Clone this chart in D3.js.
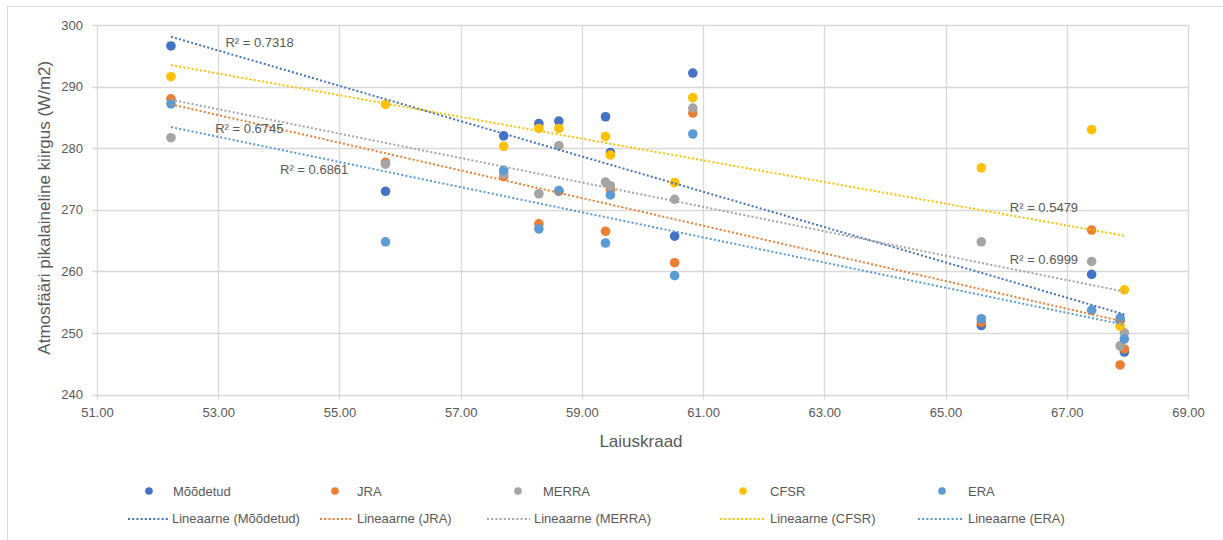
<!DOCTYPE html>
<html>
<head>
<meta charset="utf-8">
<script src="https://cdn.jsdelivr.net/npm/d3@7/dist/d3.min.js"></script>
<style>
  html, body { margin: 0; padding: 0; background: #fff; }
  svg { display: block; font-family: "Liberation Sans", Arial, sans-serif; }
</style>
</head>
<body>
<svg id="chart" width="1223" height="540"></svg>
<script>
// ---- DATA ----
const latitudes = [52.22, 55.76, 57.71, 58.29, 58.62, 59.39, 59.47, 60.53, 60.83, 65.59, 67.41, 67.88, 67.95];
const seriesNames = ["Mõõdetud", "JRA", "MERRA", "CFSR", "ERA"];
const moodetud = [296.6, 273.0, 282.0, 284.0, 284.4, 285.1, 279.3, 265.7, 292.2, 251.2, 259.5, 252.0, 246.9];
const jra      = [288.0, 277.7, 275.4, 267.7, 273.0, 266.5, 273.3, 261.4, 285.7, 251.7, 266.7, 244.8, 247.4];
const merra    = [281.7, 277.4, 275.8, 272.6, 280.4, 274.5, 273.9, 271.7, 286.5, 264.8, 261.6, 247.9, 250.0];
const cfsr     = [291.6, 287.1, 280.3, 283.2, 283.2, 281.9, 278.9, 274.4, 288.2, 276.8, 283.0, 251.1, 257.0];
const era      = [287.2, 264.8, 276.4, 266.9, 273.1, 264.6, 272.4, 259.3, 282.3, 252.3, 253.7, 252.4, 249.0];
const seriesValues = [moodetud, jra, merra, cfsr, era];
const xTicks = [51, 53, 55, 57, 59, 61, 63, 65, 67, 69];
const yTicks = [240, 250, 260, 270, 280, 290, 300];
const r2Labels = ["R² = 0.7318", "R² = 0.6745", "R² = 0.6861", "R² = 0.5479", "R² = 0.6999"];
const r2LabelAt = [[53.12, 297.2], [52.95, 283.3], [54.02, 276.6], [66.06, 270.4], [66.06, 262.0]];
const xTitle = "Laiuskraad";
const yTitle = "Atmosfääri pikalaineline kiirgus (W/m2)";

// ---- STYLE ----
const colors = ["#4472C4", "#ED7D31", "#A5A5A5", "#FFC000", "#5B9BD5"];
const textColor = "#595959";
const gridColor = "#d9d9d9";

const svg = d3.select("#chart");
const W = 1223, H = 540;
const plot = { left: 97, right: 1188, top: 25, bottom: 394.5 };

// chart border
svg.append("rect").attr("x", 7.5).attr("y", 6.5).attr("width", W + 10).attr("height", H + 10)
  .attr("fill", "#fff").attr("stroke", "#d9d9d9").attr("stroke-width", 1);

const x = d3.scaleLinear().domain([51, 69]).range([plot.left, plot.right]);
const y = d3.scaleLinear().domain([240, 300]).range([plot.bottom, plot.top]);

// grid
const g = svg.append("g");
g.selectAll(".hg").data(yTicks).join("line")
  .attr("x1", plot.left - 5).attr("x2", plot.right)
  .attr("y1", d => Math.round(y(d)) + 0.5).attr("y2", d => Math.round(y(d)) + 0.5)
  .attr("stroke", gridColor).attr("stroke-width", 1.3);
g.selectAll(".vg").data(xTicks).join("line")
  .attr("y1", plot.top).attr("y2", plot.bottom + 5)
  .attr("x1", d => Math.round(x(d)) + 0.5).attr("x2", d => Math.round(x(d)) + 0.5)
  .attr("stroke", gridColor).attr("stroke-width", 1.3);

// axes labels via d3 axes (no domain / lines, just text)
const xAxis = d3.axisBottom(x).tickValues(xTicks).tickFormat(d3.format(".2f")).tickSize(0).tickPadding(13);
const xa = svg.append("g").attr("transform", `translate(0,${plot.bottom})`).call(xAxis);
const yAxis = d3.axisLeft(y).tickValues(yTicks).tickFormat(d3.format("d")).tickSize(0).tickPadding(14);
const ya = svg.append("g").attr("transform", `translate(${plot.left},0)`).call(yAxis);
[xa, ya].forEach(a => {
  a.select(".domain").remove();
  a.selectAll("text").attr("fill", textColor).style("font-size", "13px").style("font-family", "Liberation Sans, Arial, sans-serif");
});

// titles
svg.append("text").attr("x", 641).attr("y", 447).attr("text-anchor", "middle")
  .attr("fill", textColor).style("font-size", "17px").text(xTitle);
svg.append("text").attr("transform", `translate(50,${(plot.top + plot.bottom) / 2 - 2}) rotate(-90)`)
  .attr("text-anchor", "middle").attr("fill", textColor).style("font-size", "17px").text(yTitle);

// regression
function linreg(xs, ys) {
  const n = xs.length;
  const mx = d3.mean(xs), my = d3.mean(ys);
  let sxy = 0, sxx = 0;
  for (let i = 0; i < n; i++) { sxy += (xs[i] - mx) * (ys[i] - my); sxx += (xs[i] - mx) ** 2; }
  const b = sxy / sxx;
  return { a: my - b * mx, b };
}
const xMin = d3.min(latitudes), xMax = d3.max(latitudes);

// points (draw series in order)
seriesValues.forEach((vals, si) => {
  svg.append("g").selectAll("circle").data(vals).join("circle")
    .attr("cx", (d, i) => x(latitudes[i])).attr("cy", d => y(d)).attr("r", 4.8)
    .attr("fill", colors[si]);
});

// trendlines on top
seriesValues.forEach((vals, si) => {
  const { a, b } = linreg(latitudes, vals);
  svg.append("line")
    .attr("x1", x(xMin)).attr("y1", y(a + b * xMin))
    .attr("x2", x(xMax)).attr("y2", y(a + b * xMax))
    .attr("stroke", colors[si]).attr("stroke-width", 2)
    .attr("stroke-dasharray", "2 2.2");
});

// R² labels
r2Labels.forEach((t, i) => {
  svg.append("text").attr("x", x(r2LabelAt[i][0])).attr("y", y(r2LabelAt[i][1]) + 5)
    .attr("fill", textColor).style("font-size", "13px").text(t);
});

// legend
const legCols = [128, 320, 487, 720, 918];
const legMarkX = [149, 335, 518, 743, 942];
const legText1X = [173, 357, 543, 770, 968];
const legText2X = [172, 357, 534, 770, 968];
const row1 = 491, row2 = 519;
seriesNames.forEach((name, i) => {
  svg.append("circle").attr("cx", legMarkX[i]).attr("cy", row1).attr("r", 3.8).attr("fill", colors[i]);
  svg.append("text").attr("x", legText1X[i]).attr("y", row1 + 2).attr("dominant-baseline", "middle")
    .attr("fill", textColor).style("font-size", "13px").text(name);
  svg.append("line").attr("x1", legCols[i]).attr("x2", legText2X[i] - 4).attr("y1", row2).attr("y2", row2)
    .attr("stroke", colors[i]).attr("stroke-width", 2).attr("stroke-dasharray", "2 2.2");
  svg.append("text").attr("x", legText2X[i]).attr("y", row2 + 1).attr("dominant-baseline", "middle")
    .attr("fill", textColor).style("font-size", "13px").text(`Lineaarne (${name})`);
});
</script>
</body>
</html>
